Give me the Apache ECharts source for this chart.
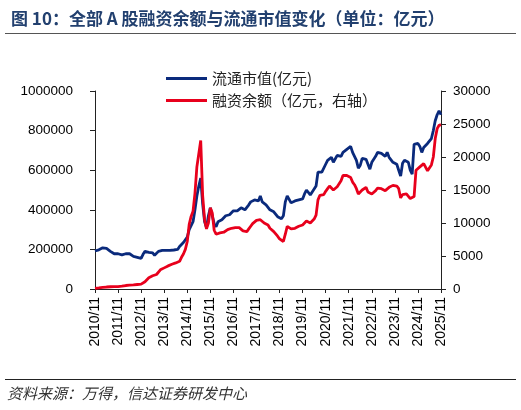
<!DOCTYPE html>
<html>
<head>
<meta charset="utf-8">
<script src="https://cdn.jsdelivr.net/npm/echarts@6/dist/echarts.min.js"></script>
<style>html,body{margin:0;padding:0;background:#fff}#c{width:521px;height:410px}</style>
</head>
<body>
<div id="c"></div>
<script>
// Monthly categories 2010/11 .. 2025/11
var startYear = 2010, startMonth = 11, nMonths = 181;
var categories = [];
for (var k = 0; k < nMonths; k++) {
  var m = startMonth - 1 + k;
  categories.push((startYear + Math.floor(m / 12)) + '/' + (m % 12 + 1));
}
var tickLabels = ['2010/11','2011/11','2012/11','2013/11','2014/11','2015/11','2016/11','2017/11','2018/11','2019/11','2020/11','2021/11','2022/11','2023/11','2024/11','2025/11'];

// 流通市值 (亿元), monthly, left axis
var marketCap = [
  192000, 195000,
  198000, 205000, 208000, 202000, 205000, 198000, 190000, 180000, 178000, 185000, 178000, 168000,
  172000, 182000, 178000, 182000, 178000, 170000, 165000, 163000, 160000, 158000, 155000, 175000,
  190000, 197000, 185000, 180000, 182000, 170000, 180000, 190000, 198000, 195000, 200000, 195000,
  190000, 195000, 193000, 197000, 198000, 200000, 215000, 222000, 235000, 245000, 262000, 300000,
  320000, 340000, 400000, 470000, 520000, 560000, 430000, 340000, 310000, 370000, 410000, 420000,
  330000, 315000, 340000, 345000, 350000, 360000, 370000, 380000, 375000, 385000, 395000, 385000,
  395000, 405000, 410000, 405000, 400000, 410000, 425000, 440000, 445000, 450000, 455000, 445000,
  470000, 440000, 430000, 425000, 430000, 400000, 395000, 390000, 385000, 365000, 370000, 355000,
  370000, 440000, 470000, 465000, 435000, 440000, 445000, 440000, 450000, 455000, 455000, 480000,
  500000, 495000, 475000, 490000, 500000, 520000, 590000, 600000, 590000, 600000, 630000, 650000,
  660000, 665000, 640000, 650000, 675000, 680000, 670000, 690000, 695000, 705000, 715000, 720000,
  690000, 670000, 650000, 610000, 625000, 660000, 665000, 655000, 630000, 605000, 640000, 645000,
  670000, 690000, 680000, 685000, 680000, 670000, 690000, 665000, 660000, 640000, 645000, 630000,
  600000, 570000, 635000, 650000, 660000, 640000, 600000, 580000, 730000, 740000, 735000, 720000,
  690000, 715000, 720000, 735000, 745000, 760000, 800000, 850000, 880000, 900000, 880000
];

// 融资余额 (亿元), monthly, right axis
var marginBalance = [
  100, 130,
  170, 210, 250, 280, 300, 330, 340, 350, 360, 355, 370, 380,
  420, 480, 530, 560, 580, 600, 620, 660, 680, 700, 740, 900,
  1100, 1400, 1700, 1900, 2000, 2100, 2200, 2500, 2900, 3000, 3200, 3400,
  3500, 3600, 3750, 3850, 3950, 4000, 4200, 4800, 5300, 6000, 7200, 9800,
  11000, 11800, 14500, 18500, 20500, 22500, 14200, 10500, 9100, 10000, 12300, 11500,
  8900, 8300, 8500, 8500, 8300, 8600, 8700, 9000, 8900, 9200, 9400, 9300,
  9200, 9300, 9100, 8800, 8600, 8700, 9100, 9500, 9900, 10100, 10400, 10200,
  10500, 10200, 10000, 9800, 9700, 9200, 8900, 8700, 8400, 8000, 7600, 7400,
  7200, 8300, 9500, 9400, 9100, 8900, 9200, 9300, 9500, 9500, 9700, 9900,
  10300, 10600, 10000, 10200, 10600, 11200, 13500, 14200, 14200, 14300, 14800, 15200,
  15600, 15500, 15000, 15100, 15500, 15800, 16400, 17200, 17400, 17200, 17300, 16900,
  16200, 15800, 15200, 14400, 14400, 15000, 15300, 15400, 14700, 14400, 14400, 14600,
  14900, 15300, 15000, 15200, 15000, 14900, 15100, 15400, 15300, 15700, 15900, 15600,
  15200, 13800, 14300, 14400, 14400, 14100, 13700, 13600, 14000, 18000, 18300, 18500,
  18400, 19000, 19300, 17900, 18200, 18800, 20000, 22800, 24300, 24800, 24900
];

var chart = echarts.init(document.getElementById('c'));
var axisFont = { fontFamily: 'Liberation Sans, Arial, sans-serif', fontSize: 13.5, color: '#000' };
var plain = function (v) { return String(v); };
var isTick = function (i, v) { return tickLabels.indexOf(v) >= 0; };
chart.setOption({
  animation: false,
  backgroundColor: '#fff',
  title: {
    text: '图 10：全部 A 股融资余额与流通市值变化（单位：亿元）',
    left: 6, top: 5,
    textStyle: { fontFamily: 'Noto Sans CJK SC', fontSize: 17, fontWeight: 'bold', color: '#22406f' }
  },
  graphic: [
    { type: 'line', shape: { x1: 5, y1: 33.5, x2: 516, y2: 33.5 }, style: { stroke: '#555', lineWidth: 1 } },
    { type: 'line', shape: { x1: 5, y1: 379.5, x2: 516, y2: 379.5 }, style: { stroke: '#222', lineWidth: 1 } },
    { type: 'text', left: 7, top: 386, style: { text: '资料来源：万得，信达证券研发中心', fontFamily: 'Noto Sans CJK SC', fontSize: 15, fontStyle: 'italic', fill: '#333' } }
  ],
  legend: {
    orient: 'vertical', left: 161, top: 66,
    itemWidth: 41, itemHeight: 3, itemGap: 7, icon: 'rect',
    textStyle: { fontFamily: 'Noto Sans CJK SC', fontSize: 15, color: '#222', lineHeight: 15 },
    data: ['流通市值(亿元)', '融资余额（亿元，右轴）']
  },
  grid: { left: 95, right: 80, top: 91, bottom: 121 },
  xAxis: {
    type: 'category', data: categories, boundaryGap: false,
    axisLine: { lineStyle: { color: '#222', width: 1 } },
    axisTick: { length: 4, lineStyle: { color: '#222' }, interval: isTick },
    axisLabel: { rotate: 90, margin: 8, ...axisFont, fontSize: 14, interval: isTick }
  },
  yAxis: [
    {
      type: 'value', min: 0, max: 1000000, interval: 200000,
      splitLine: { show: false },
      axisLine: { show: true, lineStyle: { color: '#222' } },
      axisTick: { show: true, length: 5, lineStyle: { color: '#222' } },
      axisLabel: { margin: 22, ...axisFont, formatter: plain }
    },
    {
      type: 'value', min: 0, max: 30000, interval: 5000, position: 'right',
      splitLine: { show: false },
      axisLine: { show: true, lineStyle: { color: '#222' } },
      axisTick: { show: true, length: 5, lineStyle: { color: '#222' } },
      axisLabel: { margin: 12, ...axisFont, formatter: plain }
    }
  ],
  series: [
    {
      name: '流通市值(亿元)', type: 'line', data: marketCap, yAxisIndex: 0,
      showSymbol: false, symbol: 'none', color: '#0a2a7c',
      lineStyle: { width: 2.8, color: '#0a2a7c' }, z: 2
    },
    {
      name: '融资余额（亿元，右轴）', type: 'line', data: marginBalance, yAxisIndex: 1,
      showSymbol: false, symbol: 'none', color: '#e8001c',
      lineStyle: { width: 2.8, color: '#e8001c' }, z: 3
    }
  ]
});
</script>
</body>
</html>
